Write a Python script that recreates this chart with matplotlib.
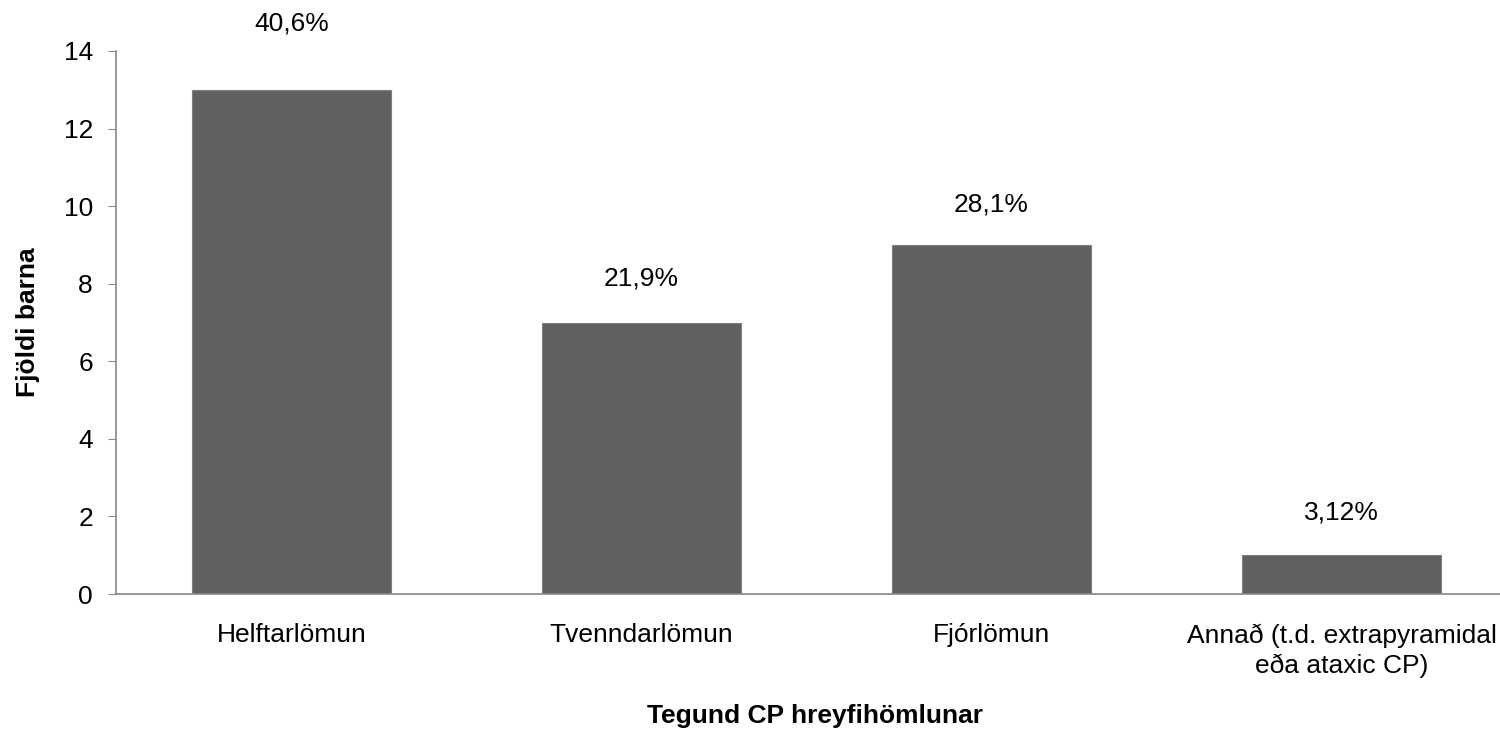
import matplotlib.pyplot as plt
import numpy as np

categories = ["Helftarlömun", "Tvenndarlömun", "Fjórlömun",
              "Annað (t.d. extrapyramidal\neða ataxic CP)"]
counts = [13, 7, 9, 1]
pct_labels = ["40,6%", "21,9%", "28,1%", "3,12%"]
label_offsets = [48, 32, 29, 31]  # points above bar top

plt.rcParams['font.family'] = ['Liberation Sans', 'DejaVu Sans']

fig = plt.figure(figsize=(15, 7.31), dpi=100)
ax = fig.add_axes([116.5 / 1500, 1 - 594 / 731, 1400 / 1500, (594 - 51) / 731])

x = np.arange(len(categories))
bars = ax.bar(x, counts, width=0.57, color='#606060', edgecolor='#808080', linewidth=0.8)

for xi, c, lab, off in zip(x, counts, pct_labels, label_offsets):
    ax.annotate(lab, (xi, c), xytext=(0, off), textcoords='offset points',
                ha='center', va='center', fontsize=19, annotation_clip=False)

ax.set_xlim(-0.5, len(categories) - 0.5)
ax.set_ylim(0, 14)
ax.set_yticks(range(0, 15, 2))
ax.set_xticks(x)
ax.set_xticklabels(categories, fontsize=19, linespacing=1.32)
ax.tick_params(axis='x', length=0, pad=21)
ax.tick_params(axis='y', length=6, color='#888888', labelsize=19, pad=11)

for s in ['top', 'right']:
    ax.spines[s].set_visible(False)
for s in ['left', 'bottom']:
    ax.spines[s].set_color('#888888')
    ax.spines[s].set_linewidth(1.2)

ax.set_xlabel("Tegund CP hreyfihömlunar", fontsize=19, fontweight='bold')
ax.set_ylabel("Fjöldi barna", fontsize=19, fontweight='bold')
ax.xaxis.set_label_coords((815 - 116.5) / 1400, -(716 - 594) / 543)
ax.xaxis.label.set_va('center')
ax.yaxis.set_label_coords(-(116.5 - 28) / 1400, (594 - 322) / 543)
ax.yaxis.label.set_va('center')

fig.savefig("out.png", dpi=100)
